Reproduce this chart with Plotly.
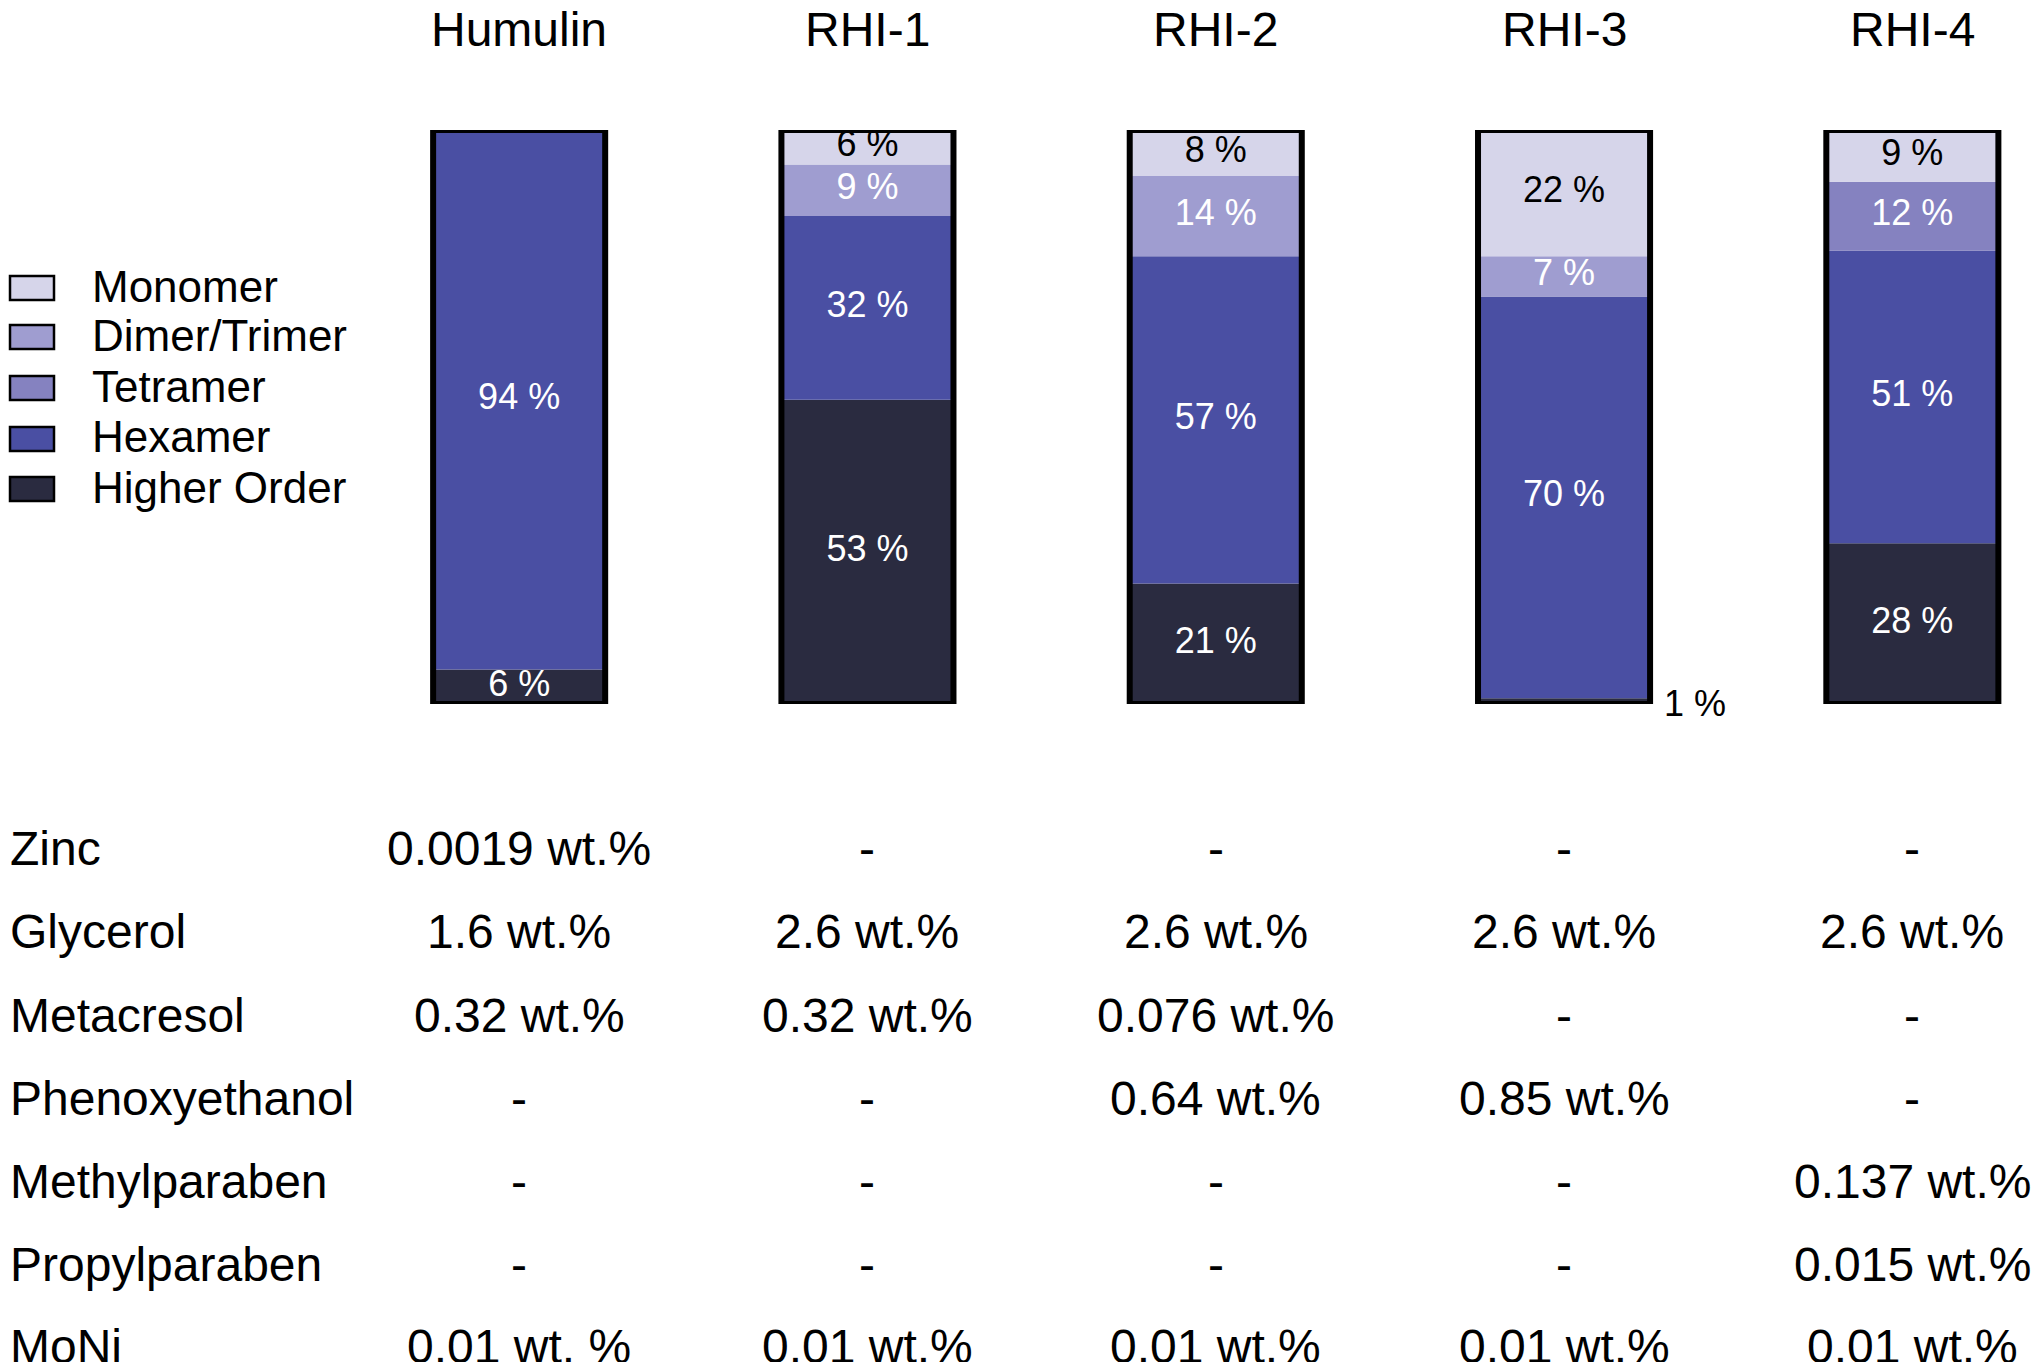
import plotly.graph_objects as go

# ---------------- data ----------------
formulations = ["Humulin", "RHI-1", "RHI-2", "RHI-3", "RHI-4"]
species = ["Higher Order", "Hexamer", "Tetramer", "Dimer/Trimer", "Monomer"]  # bottom -> top
higher_order = [6, 53, 21, 1, 28]
hexamer = [94, 32, 57, 70, 51]
tetramer = [0, 0, 0, 0, 12]
dimer_trimer = [0, 9, 14, 7, 0]
monomer = [0, 6, 8, 22, 9]

legend_order = ["Monomer", "Dimer/Trimer", "Tetramer", "Hexamer", "Higher Order"]

table_rows = ["Zinc", "Glycerol", "Metacresol", "Phenoxyethanol",
              "Methylparaben", "Propylparaben", "MoNi"]
humulin_col = ["0.0019 wt.%", "1.6 wt.%", "0.32 wt.%", "-", "-", "-", "0.01 wt. %"]
rhi1_col = ["-", "2.6 wt.%", "0.32 wt.%", "-", "-", "-", "0.01 wt.%"]
rhi2_col = ["-", "2.6 wt.%", "0.076 wt.%", "0.64 wt.%", "-", "-", "0.01 wt.%"]
rhi3_col = ["-", "2.6 wt.%", "-", "0.85 wt.%", "-", "-", "0.01 wt.%"]
rhi4_col = ["-", "2.6 wt.%", "-", "-", "0.137 wt.%", "0.015 wt.%", "0.01 wt.%"]

# ---------------- style ----------------
FONT = "Liberation Sans, Arial, sans-serif"
colors = {
    "Monomer": "#d6d5ea",
    "Dimer/Trimer": "#9f9dd0",
    "Tetramer": "#8582c0",
    "Hexamer": "#4a4fa3",
    "Higher Order": "#2a2b40",
}
label_colors = {
    "Monomer": "black",
    "Dimer/Trimer": "white",
    "Tetramer": "white",
    "Hexamer": "white",
    "Higher Order": "white",
}

# the page body has an 8 px margin; work in page pixels and convert
OFF = 8
W, H = 2040 - 2 * OFF, 1370 - 2 * OFF
PAGE_L, PAGE_R, PAGE_T, PAGE_B = 345, 2030, 130, 704   # plot area in page pixels
PLOT_L, PLOT_R, PLOT_T, PLOT_B = PAGE_L - OFF, PAGE_R - OFF, PAGE_T - OFF, PAGE_B - OFF
UNIT = 348.3                                            # px per category
BAR_W = 0.494
X_RANGE = [-0.5, -0.5 + (PLOT_R - PLOT_L) / UNIT]


def px_x(p):
    return (p - OFF - PLOT_L) / (PLOT_R - PLOT_L)


def px_y(p):
    return (PLOT_B - (p - OFF)) / (PLOT_B - PLOT_T)


series = {
    "Higher Order": higher_order,
    "Hexamer": hexamer,
    "Tetramer": tetramer,
    "Dimer/Trimer": dimer_trimer,
    "Monomer": monomer,
}
columns = [humulin_col, rhi1_col, rhi2_col, rhi3_col, rhi4_col]

fig = go.Figure()

base = [0] * len(formulations)
lab_x, lab_y, lab_t, lab_c = [], [], [], []
outside = []
for name in species:
    vals = series[name]
    fig.add_trace(go.Bar(
        x=formulations, y=vals, base=base, name=name, width=BAR_W,
        marker=dict(color=colors[name], line=dict(width=0)),
        showlegend=False, hoverinfo="skip",
    ))
    for i, v in enumerate(vals):
        if v <= 0:
            continue
        mid = base[i] + v / 2
        if v < 3:
            outside.append((i, mid, v))
        else:
            lab_x.append(formulations[i])
            lab_y.append(mid)
            lab_t.append(f"{v} %")
            lab_c.append(label_colors[name])
    base = [b + v for b, v in zip(base, vals)]

totals = base
# outline of every stacked bar
fig.add_trace(go.Bar(
    x=formulations, y=totals, base=[0] * len(totals), width=BAR_W,
    marker=dict(color="rgba(0,0,0,0)", line=dict(color="black", width=6)),
    showlegend=False, hoverinfo="skip",
))

# segment labels
fig.add_trace(go.Scatter(
    x=lab_x, y=lab_y, text=lab_t, mode="text",
    textfont=dict(family=FONT, size=36, color=lab_c),
    textposition="middle center", showlegend=False, hoverinfo="skip",
    cliponaxis=False,
))

annotations = []
for i, mid, v in outside:
    annotations.append(dict(
        x=i + BAR_W / 2, y=mid, xref="x", yref="y", text=f"{v} %",
        showarrow=False, xanchor="left", yanchor="middle", xshift=12, yshift=-2,
        font=dict(family=FONT, size=36, color="black"),
    ))

# column titles
for f in formulations:
    annotations.append(dict(
        x=f, y=px_y(29), xref="x", yref="paper", text=f, showarrow=False,
        xanchor="center", yanchor="middle",
        font=dict(family=FONT, size=48, color="black"),
    ))

# legend (manual, to match the swatch geometry)
shapes = []
legend_centers = [288, 337, 388, 439, 489]
for name, cy in zip(legend_order, legend_centers):
    shapes.append(dict(
        type="rect", xref="paper", yref="paper",
        x0=px_x(10), x1=px_x(54), y0=px_y(cy + 12), y1=px_y(cy - 12),
        fillcolor=colors[name], line=dict(color="black", width=2.5),
    ))
    annotations.append(dict(
        x=px_x(90), y=px_y(cy - 2), xref="paper", yref="paper", text=name,
        showarrow=False, xanchor="left", yanchor="middle",
        font=dict(family=FONT, size=44, color="black"),
    ))

# composition table
row_centers = [848, 931, 1015, 1098, 1181, 1264, 1347]
for r, (row, cy) in enumerate(zip(table_rows, row_centers)):
    annotations.append(dict(
        x=px_x(8), y=px_y(cy), xref="paper", yref="paper", text=row,
        showarrow=False, xanchor="left", yanchor="middle",
        font=dict(family=FONT, size=48, color="black"),
    ))
    for f, col in zip(formulations, columns):
        annotations.append(dict(
            x=f, y=px_y(cy), xref="x", yref="paper", text=col[r],
            showarrow=False, xanchor="center", yanchor="middle",
            font=dict(family=FONT, size=48, color="black"),
        ))

fig.update_layout(
    width=W, height=H, autosize=False,
    margin=dict(l=PLOT_L, r=W - PLOT_R, t=PLOT_T, b=H - PLOT_B, pad=0),
    paper_bgcolor="white", plot_bgcolor="white",
    barmode="overlay", showlegend=False,
    annotations=annotations, shapes=shapes,
    font=dict(family=FONT),
)
fig.update_xaxes(range=X_RANGE, showticklabels=False, showgrid=False,
                 zeroline=False, showline=False, ticks="")
fig.update_yaxes(range=[0, 100], showticklabels=False, showgrid=False,
                 zeroline=False, showline=False, ticks="")

fig.write_html("out.html")
